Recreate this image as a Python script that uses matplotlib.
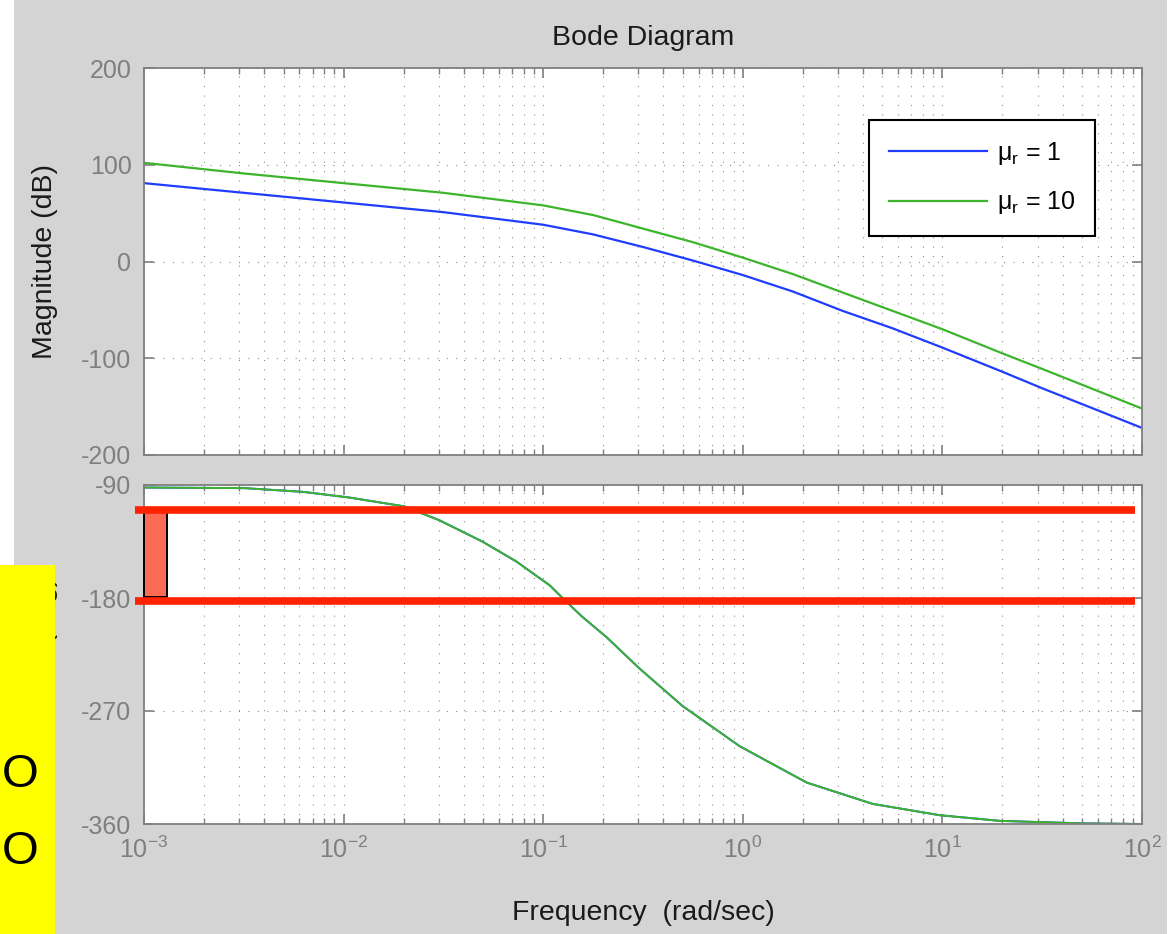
import matplotlib
matplotlib.use('Agg')
import matplotlib.pyplot as plt
from matplotlib.patches import Rectangle
from matplotlib.ticker import LogLocator, NullFormatter

plt.rcParams['font.family'] = ['Liberation Sans', 'DejaVu Sans']
plt.rcParams['mathtext.fontset'] = 'custom'
plt.rcParams['mathtext.rm'] = 'Liberation Sans'
plt.rcParams['mathtext.it'] = 'Liberation Sans'
plt.rcParams['axes.unicode_minus'] = False

# magnitude response, two values of mu_r
freq = [1e-3, 3.16e-3, 1e-2, 3.16e-2, 0.1, 0.178, 0.316, 0.562,
        1.0, 1.78, 3.16, 5.62, 10.0, 20.0, 31.6, 100.0]
mag_mu1 = [81, 71, 61, 51, 38, 28, 15, 1, -14, -31, -51, -69, -89, -114, -131, -172]
mag_mu10 = [102, 91, 81, 71, 58, 48, 34, 20, 4, -13, -32, -51, -70, -95, -111, -152]

# phase is the same for both gains
ph_freq = [0.001, 0.0032, 0.0063, 0.0107, 0.0201, 0.0301, 0.0495, 0.0735, 0.108,
           0.125, 0.157, 0.207, 0.303, 0.499, 0.964, 2.09, 4.48, 9.7, 19.4, 50.0, 100.0]
phase = [-92, -92.5, -95.5, -100, -107, -118, -135, -151, -170,
         -180, -195, -211, -236, -266, -298, -327, -344, -353, -357.5, -359.5, -360]

labels = ['\u03bc$_{\\mathregular{r}}$ = 1', '\u03bc$_{\\mathregular{r}}$ = 10']
mag_ticks = [-200, -100, 0, 100, 200]
phase_ticks = [-360, -270, -180, -90]

# highlighted phase band and marker
band_phase = [-110, -182.4]
band_freq = [9.0e-4, 92.0]
marker_freq = [1.0e-3, 1.3e-3]
marker_phase = [-179, -110]

BLUE = '#1f3cff'
GREEN = '#3cb42c'
GRAY = '#7f7f7f'
GRID = '#8c8c8c'

W, H = 1171, 934
fig = plt.figure(figsize=(W / 100, H / 100), dpi=100, facecolor='white')
fig.patches.append(Rectangle((14 / W, 0), (1167 - 14) / W, 1, transform=fig.transFigure,
                             facecolor='#d4d4d4', edgecolor='none', zorder=-10))

ax1 = fig.add_axes([144 / W, 1 - 455 / H, (1142 - 144) / W, (455 - 68) / H])
ax2 = fig.add_axes([144 / W, 1 - 824 / H, (1142 - 144) / W, (824 - 485) / H])


def style(ax, yticks):
    ax.set_xscale('log')
    ax.set_xlim(1e-3, 1e2)
    ax.set_ylim(yticks[0], yticks[-1])
    ax.set_yticks(yticks)
    ax.xaxis.set_major_locator(LogLocator(base=10, numticks=10))
    ax.xaxis.set_minor_locator(LogLocator(base=10, subs=range(2, 10), numticks=20))
    ax.xaxis.set_minor_formatter(NullFormatter())
    ax.tick_params(which='both', direction='in', top=True, right=True,
                   colors=GRAY, labelcolor=GRAY, labelsize=18, pad=9)
    ax.tick_params(which='major', length=7, width=1.2)
    ax.tick_params(which='minor', length=4.5, width=1.0)
    for sp in ax.spines.values():
        sp.set_color(GRAY)
        sp.set_linewidth(1.3)
    ax.grid(True, which='both', axis='x', color=GRID, linestyle=(0, (1, 7.5)), linewidth=0.8)
    ax.grid(True, which='major', axis='y', color=GRID, linestyle=(0, (1, 7.5)), linewidth=0.8)
    ax.set_axisbelow(True)


style(ax1, mag_ticks)
style(ax2, phase_ticks)
ax1.tick_params(axis='x', labelbottom=False)

ax1.plot(freq, mag_mu1, color=BLUE, lw=1.6, label=labels[0])
ax1.plot(freq, mag_mu10, color=GREEN, lw=1.6, label=labels[1])
leg = ax1.legend(loc='upper right', bbox_to_anchor=(0.953, 0.866), borderaxespad=0,
                 fontsize=18, handlelength=3.9, handletextpad=0.4, labelspacing=0.9,
                 borderpad=0.8, fancybox=False, framealpha=1, edgecolor='black')
leg.get_frame().set_linewidth(1.5)

ax2.plot(ph_freq, phase, color=BLUE, lw=1.4)
ax2.plot(ph_freq, phase, color=GREEN, lw=1.4)

for y in band_phase:
    ax2.plot(band_freq, [y, y], color='#ff2200', lw=5.5, clip_on=False, zorder=5,
             solid_capstyle='butt')
ax2.add_patch(Rectangle((marker_freq[0], marker_phase[0]), marker_freq[1] - marker_freq[0],
                        marker_phase[1] - marker_phase[0], facecolor='#fb6a55',
                        edgecolor='black', lw=1.4, clip_on=False, zorder=4))

ax1.set_ylabel('Magnitude (dB)', fontsize=20.5, color='#1a1a1a')
ax2.set_ylabel('Phase (deg)', fontsize=20.5, color='#1a1a1a')
ax1.yaxis.set_label_coords(-0.086, 0.5)
ax2.yaxis.set_label_coords(-0.086, 0.5)

fig.text(643 / W, 1 - 38 / H, 'Bode Diagram', ha='center', va='center',
         fontsize=20.5, color='#1a1a1a')
fig.text(643 / W, 1 - 913 / H, 'Frequency  (rad/sec)', ha='center', va='center',
         fontsize=20.5, color='#1a1a1a')

# yellow note box on the left edge
fig.patches.append(Rectangle((0, 0), 55 / W, (934 - 565) / H, transform=fig.transFigure,
                             facecolor='#ffff00', edgecolor='none', zorder=5))
fig.text(20 / W, 1 - 775 / H, 'O', ha='center', va='center', fontsize=34,
         color='black', zorder=6)
fig.text(20 / W, 1 - 852 / H, 'O', ha='center', va='center', fontsize=34,
         color='black', zorder=6)

fig.savefig('out.png', dpi=100, facecolor=fig.get_facecolor())
